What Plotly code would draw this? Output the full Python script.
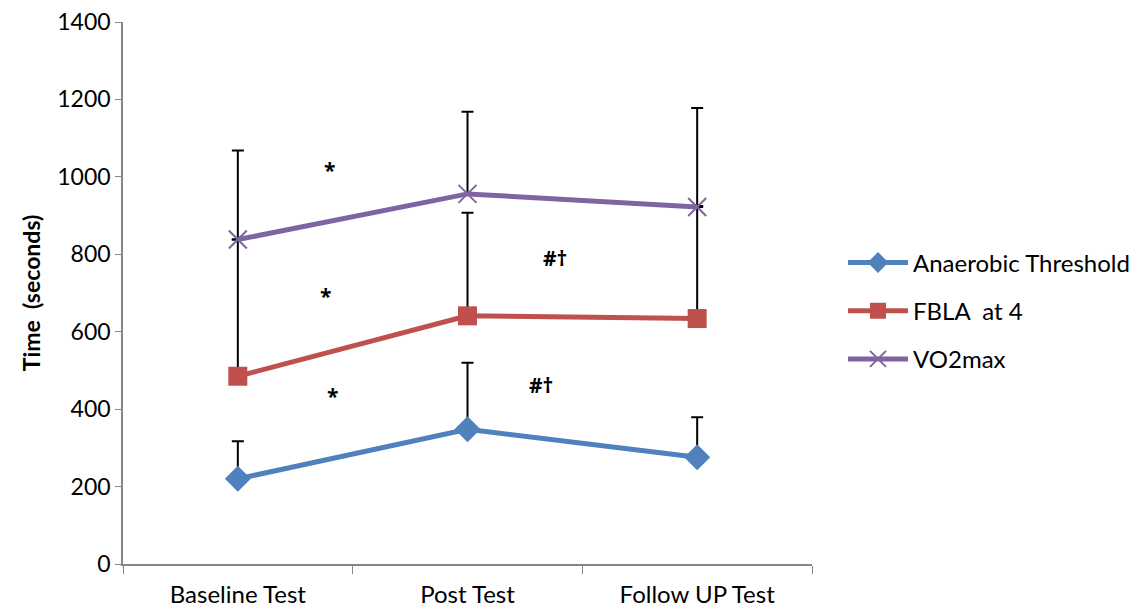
import plotly.graph_objects as go

categories = ["Baseline Test", "Post Test", "Follow UP Test"]

anaerobic = [220, 348, 276]
anaerobic_err = [97, 172, 103]

fbla = [485, 641, 634]
fbla_err = [353, 266, 291]

vo2max = [838, 956, 922]
vo2max_err = [230, 212, 256]

notes_text = ["*", "*", "*", "#†", "#†"]
notes_x = [0.40, 0.38, 0.41, 1.38, 1.32]
notes_y = [1018, 692, 434, 790, 462]

font_family = "Lato, 'Open Sans', sans-serif"

fig = go.Figure()

def add_series(name, y, err, color, symbol, msize, mline=0):
    fig.add_trace(go.Scatter(
        x=categories, y=y, name=name, mode="lines+markers",
        legendgroup=name,
        line=dict(color=color, width=5),
        marker=dict(symbol=symbol, size=msize, color=color,
                    line=dict(color=color, width=mline)),
        error_y=dict(type="data", array=err, arrayminus=[0] * len(err),
                     symmetric=False, color="black", thickness=2, width=6),
    ))

add_series("Anaerobic Threshold", anaerobic, anaerobic_err, "#4F81BD", "diamond", 20)
add_series("FBLA  at 4", fbla, fbla_err, "#C0504D", "square", 19)
add_series("VO2max", vo2max, vo2max_err, "#8064A2", "x-thin", 18, 2)

for t, x, y in zip(notes_text, notes_x, notes_y):
    fig.add_annotation(x=x, y=y, text="<b>" + t + "</b>", showarrow=False,
                       font=dict(family="'Open Sans', sans-serif", size=21, color="black"))

# The page body has an 8px margin, so the figure is sized and placed to compensate.
fig.update_layout(
    width=1134, height=602,
    margin=dict(l=115, r=330, t=14, b=46, autoexpand=False),
    paper_bgcolor="white", plot_bgcolor="white",
    font=dict(family=font_family, size=23, color="black"),
    legend=dict(x=1.045, y=0.467, xanchor="left", yanchor="middle",
                font=dict(size=24), tracegroupgap=14, itemwidth=60,
                bgcolor="rgba(0,0,0,0)"),
    showlegend=True,
)
fig.update_xaxes(type="category", tickson="boundaries", ticks="outside",
                 ticklen=8, tickcolor="#868686", showline=True,
                 linecolor="#868686", linewidth=1.5, showgrid=False,
                 tickfont=dict(size=24), range=[-0.5, 2.5], automargin=False,
                 ticklabelstandoff=8, ticklabeloverflow="allow")
fig.update_yaxes(range=[0, 1400], dtick=200, ticks="outside", ticklen=6,
                 tickcolor="#868686", showline=True, linecolor="#868686",
                 linewidth=1.5, showgrid=False, zeroline=False,
                 tickfont=dict(size=23), automargin=False,
                 ticklabeloverflow="allow",
                 title=dict(text="<b>Time  (seconds)</b>", font=dict(size=23), standoff=10))

fig.write_html("out.html")
